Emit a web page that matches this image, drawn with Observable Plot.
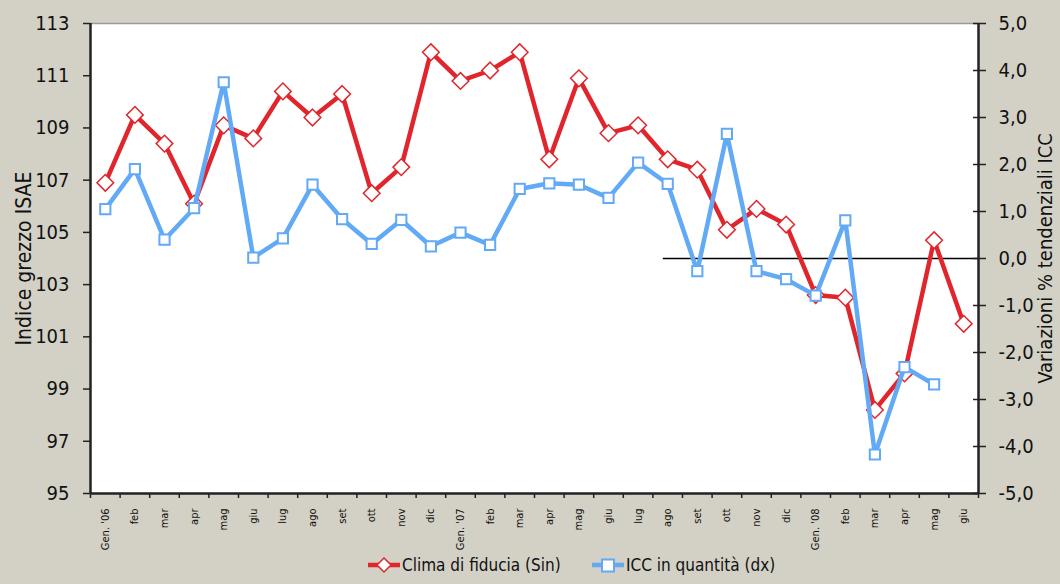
<!DOCTYPE html>
<html>
<head>
<meta charset="utf-8">
<script src="https://cdn.jsdelivr.net/npm/d3@7"></script>
<script src="https://cdn.jsdelivr.net/npm/@observablehq/plot@0.6"></script>
<style>
  html, body { margin: 0; padding: 0; background: #d3d0c5; }
  body { width: 1060px; height: 584px; overflow: hidden; font-family: "DejaVu Sans Condensed", "DejaVu Sans", sans-serif; font-stretch: condensed; }
  #chart svg { display: block; }
  #chart svg text { font-stretch: condensed; }
  #legend { position: relative; height: 34px; font-size: 17px; color: #111; }
  .item { position: absolute; top: 5px; display: flex; align-items: center; gap: 2px; white-space: nowrap; }
</style>
</head>
<body>
<div id="chart"></div>
<div id="legend"></div>
<script>
const months = ["Gen. '06","feb","mar","apr","mag","giu","lug","ago","set","ott","nov","dic",
                "Gen. '07","feb","mar","apr","mag","giu","lug","ago","set","ott","nov","dic",
                "Gen. '08","feb","mar","apr","mag","giu"];
const clima = [106.9,109.5,108.4,106.1,109.1,108.6,110.4,109.4,110.3,106.5,107.5,111.9,
               110.8,111.2,111.9,107.8,110.9,108.8,109.1,107.8,107.4,105.1,105.9,105.3,
               102.6,102.5,98.2,99.6,104.7,101.5];
const icc = [1.05,1.9,0.4,1.07,3.75,0.02,0.43,1.57,0.84,0.31,0.82,0.26,
             0.55,0.29,1.48,1.6,1.57,1.29,2.04,1.59,-0.27,2.65,-0.27,-0.44,
             -0.79,0.81,-4.17,-2.31,-2.68,null];
const leftTicks = [95,97,99,101,103,105,107,109,111,113];
const rightTicks = [-5,-4,-3,-2,-1,0,1,2,3,4,5];
const seriesNames = ["Clima di fiducia (Sin)", "ICC in quantità (dx)"];
const titleLeft = "Indice grezzo ISAE";
const titleRight = "Variazioni % tendenziali ICC";
const zeroLineFrom = 18.85; // starts near "ago '07"

const red = "#e0262c", blue = "#62a9f6";
const FONT = '"DejaVu Sans Condensed", "DejaVu Sans", sans-serif';

const L0 = 95, L1 = 113, R0 = -5, R1 = 5;
const toLeft = v => L0 + (v - R0) * (L1 - L0) / (R1 - R0);

const redData = clima.map((v, i) => ({i, v}));
const blueData = icc.map((v, i) => ({i, v: v == null ? null : toLeft(v)})).filter(d => d.v != null);

const n = months.length;
const bounds = d3.range(n + 1).map(k => k - 0.5);
const fmtR = v => {
  const r = Math.round((v - L0) * (R1 - R0) / (L1 - L0) + R0);
  return r.toFixed(1).replace(".", ",");
};

const chart = Plot.plot({
  width: 1060,
  height: 550,
  marginLeft: 90,
  marginRight: 82,
  marginTop: 23,
  marginBottom: 57,
  style: {background: "transparent", fontFamily: FONT},
  x: {type: "linear", domain: [-0.5, n - 0.5]},
  y: {domain: [L0, L1]},
  marks: [
    Plot.frame({fill: "white", stroke: null}),
    Plot.ruleY([L1], {stroke: "#9a9a9a", strokeWidth: 1.5}),
    Plot.ruleY([toLeft(0)], {x1: zeroLineFrom, x2: n - 0.5, stroke: "black", strokeWidth: 1.3}),
    Plot.axisY(leftTicks, {anchor: "left", tickSize: 7, tickPadding: 14, fontSize: 20, tickFormat: d => String(d), label: null, stroke: "#222", strokeWidth: 1.5, fill: "#111"}),
    Plot.axisY(rightTicks.map(toLeft), {anchor: "right", tickSize: 13, dx: -6, tickPadding: 13, fontSize: 20, tickFormat: fmtR, label: null, stroke: "#222", strokeWidth: 1.5, fill: "#111"}),
    Plot.axisX(bounds, {anchor: "bottom", tickSize: 5, tickFormat: () => "", label: null, stroke: "#222", strokeWidth: 1.5}),
    Plot.axisX(d3.range(n), {anchor: "bottom", tickSize: 0, tickPadding: 15, tickRotate: -90, fontSize: 11, tickFormat: i => months[i], label: null, fill: "#111"}),
    Plot.ruleX([-0.5], {stroke: "#222", strokeWidth: 2.5}),
    Plot.ruleX([n - 0.5], {stroke: "#222", strokeWidth: 2.5}),
    Plot.ruleY([L0], {stroke: "#222", strokeWidth: 2.5}),
    Plot.text([titleLeft], {frameAnchor: "left", textAnchor: "middle", dx: -66, rotate: -90, fontSize: 21, fill: "#111", text: d => d}),
    Plot.text([titleRight], {frameAnchor: "right", textAnchor: "middle", dx: 67, rotate: -90, fontSize: 20, fill: "#111", text: d => d}),
    Plot.line(redData, {x: "i", y: "v", stroke: red, strokeWidth: 4.5}),
    Plot.dot(redData, {x: "i", y: "v", symbol: "diamond2", r: 7.5, fill: "white", stroke: red, strokeWidth: 1.5}),
    Plot.line(blueData, {x: "i", y: "v", stroke: blue, strokeWidth: 4.5}),
    Plot.dot(blueData, {x: "i", y: "v", symbol: "square2", r: 6.5, fill: "white", stroke: blue, strokeWidth: 2})
  ]
});
document.getElementById("chart").append(chart);

const legend = document.getElementById("legend");
const items = [
  {name: seriesNames[0], color: red, shape: "diamond", left: 368},
  {name: seriesNames[1], color: blue, shape: "square", left: 592}
];
for (const it of items) {
  const div = document.createElement("div");
  div.className = "item";
  div.style.left = it.left + "px";
  const marker = it.shape === "diamond"
    ? `<path d="M16,3 L23,10 L16,17 L9,10 Z" fill="white" stroke="${it.color}" stroke-width="1.5"/>`
    : `<rect x="10" y="4.5" width="12" height="12" fill="white" stroke="${it.color}" stroke-width="2"/>`;
  div.innerHTML = `<svg width="32" height="20"><line x1="0" x2="32" y1="10" y2="10" stroke="${it.color}" stroke-width="4.5"/>${marker}</svg><span>${it.name}</span>`;
  legend.append(div);
}
</script>
</body>
</html>
